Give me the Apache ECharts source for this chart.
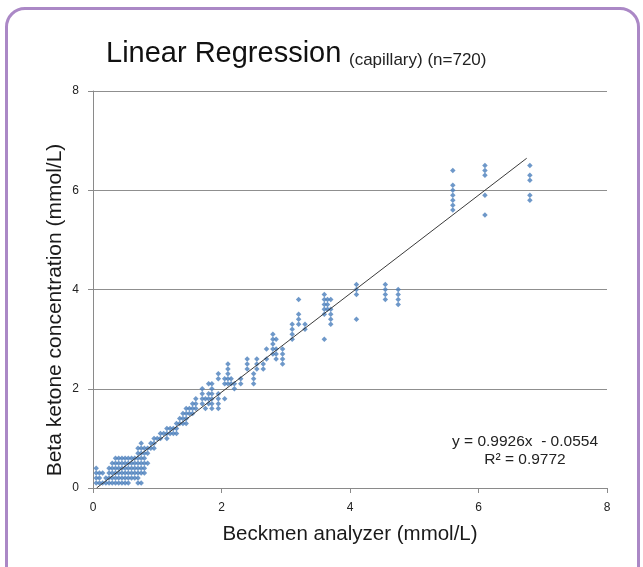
<!DOCTYPE html>
<html>
<head>
<meta charset="utf-8">
<script src="https://cdn.jsdelivr.net/npm/echarts@6/dist/echarts.min.js"></script>
<style>
html,body{margin:0;padding:0;background:#fff;width:643px;height:567px;overflow:hidden;}
#frame{position:absolute;left:5px;top:7px;width:629px;height:620px;border:3px solid #ab88c6;border-radius:20px;box-sizing:content-box;}
#chart{position:absolute;left:0;top:0;width:643px;height:567px;}
</style>
</head>
<body>
<div id="frame"></div>
<div id="chart"></div>
<script>
// Low-value cluster: one row per y value, listing the x values in that row
const lowRowY = [0.1, 0.2, 0.3, 0.4, 0.5, 0.6, 0.7, 0.8, 0.9, 1.0, 1.1];
const lowRowX = [
  [0.05, 0.1, 0.15, 0.2, 0.25, 0.3, 0.35, 0.4, 0.45, 0.5, 0.55, 0.7, 0.75],
  [0.05, 0.1, 0.2, 0.25, 0.3, 0.35, 0.4, 0.45, 0.5, 0.55, 0.6, 0.65, 0.7],
  [0.05, 0.1, 0.15, 0.25, 0.3, 0.35, 0.4, 0.45, 0.5, 0.55, 0.6, 0.65, 0.7, 0.75, 0.8],
  [0.05, 0.25, 0.3, 0.35, 0.4, 0.45, 0.5, 0.55, 0.6, 0.65, 0.7, 0.75, 0.8],
  [0.3, 0.35, 0.4, 0.45, 0.5, 0.55, 0.6, 0.65, 0.7, 0.75, 0.8, 0.85],
  [0.35, 0.4, 0.45, 0.5, 0.55, 0.6, 0.65, 0.7, 0.75, 0.8],
  [0.7, 0.75, 0.8, 0.85],
  [0.7, 0.75, 0.8, 0.85, 0.9, 0.95],
  [0.75, 0.9, 0.95],
  [0.95, 1.0, 1.05],
  [1.05, 1.1]
];
// Higher values: one column per x value, listing the y values in that column
const colX = [1.15, 1.2, 1.25, 1.3, 1.35, 1.4, 1.45, 1.5, 1.55, 1.6, 1.7, 1.75, 1.8, 1.85, 1.95,
  2.05, 2.1, 2.15, 2.2, 2.3, 2.4, 2.5, 2.55, 2.65, 2.7, 2.8, 2.85, 2.95,
  3.1, 3.2, 3.3, 3.6, 3.65, 3.7, 4.1, 4.55, 4.75, 5.6, 6.1, 6.8];
const colY = [
  [1.0, 1.1, 1.2], [1.1, 1.2], [1.1, 1.2], [1.1, 1.2, 1.3], [1.3, 1.4], [1.3, 1.4, 1.5],
  [1.3, 1.4, 1.5, 1.6], [1.5, 1.6], [1.5, 1.6, 1.7], [1.6, 1.7, 1.8], [1.7, 1.8, 1.9, 2.0],
  [1.6, 1.8], [1.7, 1.8, 1.9, 2.1], [1.6, 1.7, 1.8, 1.9, 2.0, 2.1], [1.6, 1.7, 1.8, 1.9, 2.2, 2.3],
  [1.8, 2.1, 2.2], [2.1, 2.2, 2.3, 2.4, 2.5], [2.1, 2.2], [2.0, 2.1], [2.1, 2.2],
  [2.4, 2.5, 2.6], [2.1, 2.2, 2.3], [2.4, 2.5, 2.6], [2.4, 2.5], [2.6, 2.8],
  [2.7, 2.8, 2.9, 3.0, 3.1], [2.6, 2.7, 2.8, 3.0], [2.5, 2.6, 2.7, 2.8],
  [3.0, 3.1, 3.2, 3.3], [3.3, 3.4, 3.5, 3.8], [3.2, 3.3],
  [3.0, 3.5, 3.6, 3.7, 3.8, 3.9], [3.6, 3.7, 3.8], [3.3, 3.4, 3.5, 3.6, 3.8],
  [3.4, 3.9, 4.0, 4.1], [3.8, 3.9, 4.0, 4.1], [3.7, 3.8, 3.9, 4.0],
  [5.6, 5.7, 5.8, 5.9, 6.0, 6.1, 6.4], [5.5, 5.9, 6.3, 6.4, 6.5], [5.8, 5.9, 6.2, 6.3, 6.5]
];
// Trend line from the reference equation
const slope = 0.9926, intercept = -0.0554;
const trendX = [0.056, 6.75];
const xTicks = [0, 2, 4, 6, 8];

const points = [];
lowRowY.forEach((y, i) => lowRowX[i].forEach(x => points.push([x, y])));
colX.forEach((x, i) => colY[i].forEach(y => points.push([x, y])));
const trend = trendX.map(x => [x, slope * x + intercept]);

const chart = echarts.init(document.getElementById('chart'), null, {renderer: 'canvas'});
const font = '"Liberation Sans", Arial, sans-serif';
chart.setOption({
  backgroundColor: 'transparent',
  animation: false,
  textStyle: {fontFamily: font},
  grid: {left: 93, right: 36, top: 91, bottom: 79, containLabel: false},
  xAxis: {
    type: 'value', min: 0, max: 8, interval: 2,
    name: 'Beckmen analyzer (mmol/L)', nameLocation: 'middle', nameGap: 36,
    nameTextStyle: {fontSize: 20.5, color: '#1a1a1a', fontFamily: font},
    axisLine: {show: true, lineStyle: {color: '#8a8a8a', width: 1}},
    axisTick: {show: true, length: 5, lineStyle: {color: '#8a8a8a'}},
    axisLabel: {fontSize: 12, color: '#222', margin: 14, fontFamily: font},
    splitLine: {show: false}
  },
  yAxis: {
    type: 'value', min: 0, max: 8, interval: 2,
    axisLine: {show: true, lineStyle: {color: '#8a8a8a', width: 1}},
    axisTick: {show: true, length: 5, lineStyle: {color: '#8a8a8a'}},
    axisLabel: {fontSize: 12, color: '#222', margin: 14, fontFamily: font},
    splitLine: {show: true, lineStyle: {color: '#8f8f8f', width: 1}}
  },
  graphic: [
    {type: 'text', left: 106, top: 39, style: {text: 'Linear Regression', fontSize: 29, fill: '#111', fontFamily: font}},
    {type: 'text', left: 349, top: 52, style: {text: '(capillary) (n=720)', fontSize: 17, fill: '#222', fontFamily: font}},
    {type: 'text', x: 55, y: 310, rotation: Math.PI / 2,
      style: {text: 'Beta ketone concentration (mmol/L)', fontSize: 21, fill: '#1a1a1a', fontFamily: font, align: 'center', verticalAlign: 'middle'}},
    {type: 'text', x: 525, y: 442, style: {text: 'y = 0.9926x  - 0.0554', fontSize: 15.5, fill: '#222', fontFamily: font, align: 'center', verticalAlign: 'middle'}},
    {type: 'text', x: 525, y: 460, style: {text: 'R\u00b2 = 0.9772', fontSize: 15.5, fill: '#222', fontFamily: font, align: 'center', verticalAlign: 'middle'}}
  ],
  series: [
    {type: 'scatter', data: points, symbol: 'diamond', symbolSize: 5.5,
      itemStyle: {color: '#4a7ebb'}, z: 2},
    {type: 'line', data: trend, showSymbol: false, symbol: 'none',
      lineStyle: {color: '#3a3a3a', width: 1}, z: 3}
  ]
});
</script>
</body>
</html>
